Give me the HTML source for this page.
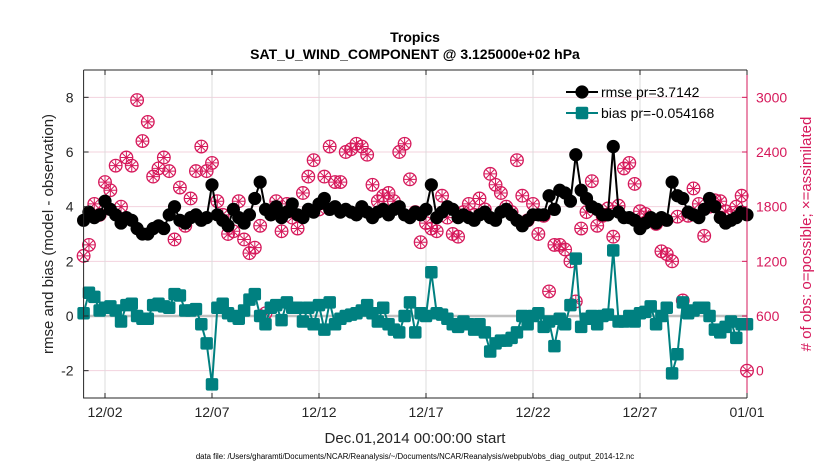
<!DOCTYPE html>
<html><head><meta charset="utf-8">
<style>
html,body{margin:0;padding:0;background:#fff;}
body{width:830px;height:470px;overflow:hidden;font-family:"Liberation Sans",Arial,sans-serif;}
svg text{font-family:"Liberation Sans",Arial,sans-serif;}
</style></head>
<body>
<svg id="chart" width="830" height="470" xmlns="http://www.w3.org/2000/svg">
<rect width="830" height="470" fill="#fff"/>
<text x="415" y="42" text-anchor="middle" font-size="14" font-weight="bold" fill="#000">Tropics</text>
<text x="415" y="59" text-anchor="middle" font-size="14" font-weight="bold" fill="#000">SAT_U_WIND_COMPONENT @ 3.125000e+02 hPa</text>
<g id="grid"></g>
<g id="series"></g>
<g id="axes"></g>
<text x="415" y="443" text-anchor="middle" font-size="15" fill="#262626">Dec.01,2014 00:00:00 start</text>
<text x="415" y="459" text-anchor="middle" font-size="7.8" fill="#000">data file: /Users/gharamti/Documents/NCAR/Reanalysis/~/Documents/NCAR/Reanalysis/webpub/obs_diag_output_2014-12.nc</text>
<text transform="translate(53,234) rotate(-90)" text-anchor="middle" font-size="15" fill="#262626">rmse and bias (model - observation)</text>
<text transform="translate(811,234) rotate(-90)" text-anchor="middle" font-size="15" fill="#d6195b"># of obs: o=possible; ×=assimilated</text>
<g>
  <line x1="566" y1="92" x2="598" y2="92" stroke="#000" stroke-width="2"/>
  <circle cx="582" cy="92" r="6.6" fill="#000"/>
  <text x="601" y="97" font-size="14" fill="#000">rmse pr=3.7142</text>
  <line x1="566" y1="113" x2="598" y2="113" stroke="#008080" stroke-width="2"/>
  <rect x="575.75" y="106.75" width="12.5" height="12.5" rx="2" fill="#008080"/>
  <text x="601" y="118" font-size="14" fill="#000">bias pr=-0.054168</text>
</g>
</svg>
<script>
const xTickLabels = ["12/02","12/07","12/12","12/17","12/22","12/27","01/01"];
const xTickDays = [1,6,11,16,21,26,31];
const leftTicks = [-2,0,2,4,6,8];
const rightTicks = [0,600,1200,1800,2400,3000];
const rmse = [3.5,3.8,3.6,3.7, 4.2,3.9,3.7,3.4, 3.6,3.5,3.2,3.0, 3.0,3.2,3.3,3.2, 3.7,4.0,3.5,3.4, 3.6,3.7,3.5,3.6, 4.8,3.7,3.5,3.3, 3.9,3.6,3.4,3.7, 4.3,4.9,3.9,3.7, 4.0,3.6,3.8,4.1, 3.7,3.6,3.9,3.8, 4.1,4.3,3.9,4.0, 3.8,3.9,3.8,3.7, 4.0,3.8,3.6,3.8, 3.9,3.7,3.9,4.0, 3.7,3.6,3.8,3.7, 3.9,4.8,3.6,3.8, 4.0,3.9,3.6,3.7, 3.6,3.5,3.7,3.8, 3.6,3.5,3.8,3.9, 3.7,3.5,3.3,3.5, 3.7,3.7,3.7,4.4, 3.9,4.6,4.5,4.2, 5.9,4.6,4.3,4.0, 3.9,3.7,3.7,6.2, 3.8,3.6,3.6,3.5, 3.2,3.4,3.6,3.4, 3.6,3.5,4.9,4.4, 4.3,3.8,3.7,3.6, 3.9,4.3,4.0,3.6, 3.4,3.5,3.6,3.8, 3.7];
const bias = [0.1,0.85,0.7,0.2, 0.3,0.35,0.2,-0.2, 0.4,0.45,0.0,-0.1, -0.1,0.4,0.45,0.35, 0.3,0.8,0.75,0.2, 0.2,0.25,-0.3,-1.0, -2.5,0.3,0.45,0.1, 0.0,-0.1,0.2,0.6, 0.8,0.0,-0.3,0.3, 0.4,-0.15,0.5,0.3, 0.3,-0.2,0.3,-0.3, 0.4,-0.5,0.5,-0.3, -0.1,0.0,0.05,0.1, 0.2,0.4,0.1,-0.2, 0.3,-0.3,-0.5,-0.6, 0.0,0.5,-0.6,0.1, 0.0,1.6,0.1,0.05, -0.1,-0.3,-0.4,-0.2, -0.3,-0.5,-0.3,-0.6, -1.3,-1.0,-0.9,-0.9, -0.8,-0.6,0.0,-0.3, 0.0,0.1,-0.4,-0.2, -1.1,-0.1,-0.3,0.4, 2.1,-0.4,-0.1,0.0, -0.3,0.0,0.05,2.4, -0.2,-0.2,0.0,-0.2, 0.1,0.15,0.35,-0.3, 0.0,0.3,-2.1,-1.4, 0.5,0.1,0.2,0.3, 0.3,0.0,-0.5,-0.6, -0.4,-0.2,-0.8,-0.3, -0.3];
const obsCount = [1260,1380,1830,1710, 2070,1980,2250,1800, 2340,2250,2970,2520, 2730,2130,2220,2340, 2190,1440,2010,1590, 1890,2190,2460,2190, 2280,1860,1710,1500, 1530,1860,1440,1290, 1350,1590,630,1740, 1860,1530,1830,1680, 1560,1950,2130,2310, 1770,2130,2460,2070, 2070,2400,2430,2490, 2460,2370,2040,1860, 1920,1950,1860,2400, 2490,2100,1740,1410, 1620,1560,1530,1920, 1680,1500,1470,1740, 1830,1710,1890,1770, 2160,2040,1950,1800, 1740,2310,1920,1650, 1830,1500,1700,870, 1380,1380,1330,1200, 760,1560,1740,2080, 1590,1700,1780,1470, 1810,2220,2280,2050, 1750,1720,1650,1610, 1310,1280,1200,1690, 770,1700,2000,1830, 1480,1800,1870,1860, 1750,1700,1800,1920, 0];

const NS="http://www.w3.org/2000/svg";
const X0=83.6, X1=747, Y0=70, Y1=398;
const xDay = d => X0 + (d/31)*(X1-X0);
const yL = v => Y1 - (v+3)/12*(Y1-Y0);
const yR = c => yL(c/300 - 2);
function mk(tag, attrs, parent){const e=document.createElementNS(NS,tag);for(const k in attrs)e.setAttribute(k,attrs[k]);parent.appendChild(e);return e;}
const grid=document.getElementById('grid'), ser=document.getElementById('series'), axes=document.getElementById('axes');

leftTicks.forEach(v=>{
  const l=mk('line',{x1:X0,x2:X1,y1:yL(v),y2:yL(v),stroke:'#f3d3de','stroke-width':1},grid);
  
  
});
xTickDays.forEach(d=>{
  const l=mk('line',{x1:xDay(d),x2:xDay(d),y1:Y0,y2:Y1,stroke:'#dcdcdc','stroke-width':1},grid);
  
  
});
const zl=mk('line',{x1:X0,x2:X1,y1:yL(0),y2:yL(0),stroke:'#c0c0c0','stroke-width':2.5},grid);



obsCount.forEach((c,i)=>{
  const cx=xDay(i/4), cy=yR(c);
  const g=mk('g',{},ser);
  
  
  mk('circle',{cx:cx,cy:cy,r:6.3,fill:'none',stroke:'#d6195b','stroke-width':1.3},g);
  let d='';
  for(let k=0;k<4;k++){const a=k*Math.PI/4;const dx=5.8*Math.cos(a),dy=5.8*Math.sin(a);d+=`M${cx-dx},${cy-dy}L${cx+dx},${cy+dy}`;}
  mk('path',{d:d,stroke:'#d6195b','stroke-width':1},g);
});

let pr=rmse.map((v,i)=>`${xDay(i/4)},${yL(v)}`).join(' ');
const rl=mk('polyline',{points:pr,fill:'none',stroke:'#000','stroke-width':2},ser);


rmse.forEach((v,i)=>{
  const c=mk('circle',{cx:xDay(i/4),cy:yL(v),r:6.6,fill:'#000'},ser);
  
  
});

let pb=bias.map((v,i)=>`${xDay(i/4)},${yL(v)}`).join(' ');
const bl=mk('polyline',{points:pb,fill:'none',stroke:'#008080','stroke-width':2},ser);


bias.forEach((v,i)=>{
  const r=mk('rect',{x:xDay(i/4)-6.25,y:yL(v)-6.25,width:12.5,height:12.5,rx:2,fill:'#008080'},ser);
  
  
});

const fr=mk('path',{d:`M${X0},${Y0}L${X1},${Y0}M${X0},${Y0}L${X0},${Y1}L${X1},${Y1}`,stroke:'#262626','stroke-width':1,fill:'none'},axes);


const ra=mk('line',{x1:X1,x2:X1,y1:Y0,y2:Y1,stroke:'#d6195b','stroke-width':1},axes);


leftTicks.forEach(v=>{
  mk('line',{x1:X0,x2:X0+5,y1:yL(v),y2:yL(v),stroke:'#262626'},axes);
  const t=mk('text',{x:X0-10,y:yL(v)+5,'text-anchor':'end','font-size':14,fill:'#262626'},axes);
  t.textContent=String(v);
  
  
});
rightTicks.forEach(c=>{
  mk('line',{x1:X1-5,x2:X1,y1:yR(c),y2:yR(c),stroke:'#d6195b'},axes);
  const t=mk('text',{x:X1+9,y:yR(c)+5,'font-size':14,fill:'#d6195b'},axes);
  t.textContent=String(c);
  
  
});
xTickDays.forEach((d,i)=>{
  mk('line',{x1:xDay(d),x2:xDay(d),y1:Y1,y2:Y1-5,stroke:'#262626'},axes);
  mk('line',{x1:xDay(d),x2:xDay(d),y1:Y0,y2:Y0+5,stroke:'#262626'},axes);
  const t=mk('text',{x:xDay(d),y:Y1+19,'text-anchor':'middle','font-size':14,fill:'#262626'},axes);
  t.textContent=xTickLabels[i];
  
  
});
</script>
</body></html>
